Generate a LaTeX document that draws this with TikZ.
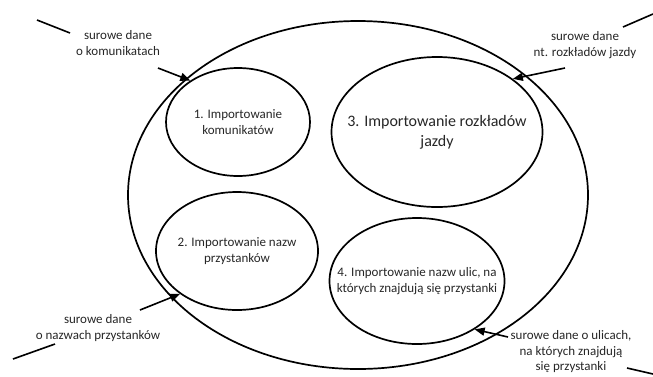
\documentclass[tikz,border=0pt]{standalone}
\usepackage{fontspec}
\setmainfont{Carlito}
\usetikzlibrary{arrows.meta,shapes.geometric}
\begin{document}
\begin{tikzpicture}[x=1pt,y=-1pt,
  every node/.style={text=black!85, font=\fontsize{13}{15.5}\selectfont},
  proc/.style={draw=black, line width=1.7pt, ellipse, inner sep=0pt},
  caption/.style={align=center, inner sep=0pt},
  datalabel/.style={align=center, inner sep=0pt},
  feed/.style={line width=1.6pt, -{Triangle[length=10pt,width=8pt]}},
  lead/.style={line width=1.6pt}]
\useasboundingbox (0,0) rectangle (653,376);

% system boundary and the four import processes
\node[proc, minimum width=460pt, minimum height=348pt] (sys) at (358,195) {};
\node[proc, minimum width=144pt, minimum height=108pt,
  label={[caption]center:1. Importowanie\\komunikatów}] (p1) at (238,122) {};
\node[proc, minimum width=211pt, minimum height=150pt,
  label={[caption, font=\fontsize{16}{20}\selectfont]center:3. Importowanie rozkładów\\jazdy}] (p3) at (437,132) {};
\node[proc, minimum width=162pt, minimum height=118pt,
  label={[caption]center:2. Importowanie nazw\\przystanków}] (p2) at (237,251) {};
\node[proc, minimum width=175pt, minimum height=126pt,
  label={[caption]center:4. Importowanie nazw ulic, na\\których znajdują się przystanki}] (p4) at (417,281) {};

% input data labels
\node[datalabel] (d1) at (118,43) {surowe dane\\o komunikatach};
\node[datalabel] (d3) at (585,45) {surowe dane\\nt. rozkładów jazdy};
\node[datalabel] (d2) at (98,328) {surowe dane\\o nazwach przystanków};
\node[datalabel] (d4) at (571,352) {surowe dane o ulicach,\\na których znajdują\\się przystanki};

% incoming data flows
\coordinate (a1s) at (37,20);   \coordinate (a1e) at (70,33);   \coordinate (a1t) at (158,68);
\coordinate (a3s) at (653,14);  \coordinate (a3e) at (623,27);  \coordinate (a3t) at (565,68);
\coordinate (a2s) at (13,359);  \coordinate (a2e) at (55,344);  \coordinate (a2t) at (140,310);
\coordinate (a4s) at (653,374); \coordinate (a4e) at (627,368); \coordinate (a4t) at (508,337);

\draw[lead] (a1s) -- (a1e);
\draw[feed] (a1t) -- (p1.139);
\draw[lead] (a3s) -- (a3e);
\draw[feed] (a3t) -- (p3.35);
\draw[lead] (a2s) -- (a2e);
\draw[feed] (a2t) -- (p2.217);
\draw[lead] (a4s) -- (a4e);
\draw[feed] (a4t) -- (p4.-40);
\end{tikzpicture}
\end{document}
